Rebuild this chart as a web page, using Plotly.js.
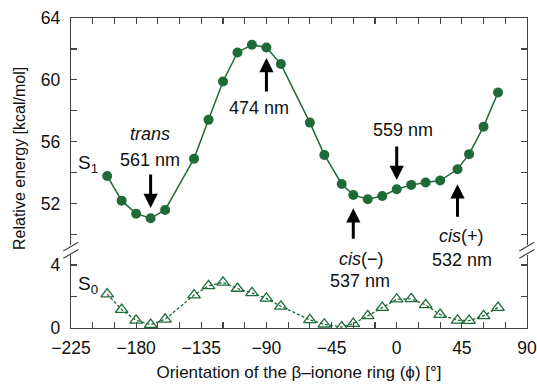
<!DOCTYPE html>
<html>
<head>
<meta charset="utf-8">
<script src="https://cdn.plot.ly/plotly-3.0.1.min.js"></script>
<style>html,body{margin:0;padding:0;background:#fff;}#chart{width:537px;height:386px;}</style>
</head>
<body>
<div id="chart"></div>
<script>
// ---- data ----
const phi = [-200,-190,-180,-170,-160,-140,-130,-120,-110,-100,-90,-80,-60,-50,-38,-30,-20,-10,0,10,20,30,42,50,60,70];
const energyS1 = [53.78,52.18,51.34,51.04,51.58,54.90,57.41,59.89,61.77,62.27,62.09,61.02,57.23,55.14,53.26,52.55,52.27,52.48,52.92,53.20,53.35,53.48,54.21,55.19,56.97,59.18];
const energyS0 = [2.15,1.17,0.49,0.22,0.55,2.09,2.68,2.90,2.51,2.23,1.88,1.38,0.52,0.24,0.06,0.28,0.77,1.30,1.83,1.85,1.47,0.85,0.49,0.47,0.77,1.30];
const xTickVals = [-225,-210,-195,-180,-165,-150,-135,-120,-105,-90,-75,-60,-45,-30,-15,0,15,30,45,60,75,90];
const xTickText = ['\u2212225','','','\u2212180','','','\u2212135','','','\u221290','','','\u221245','','','0','','','45','','','90'];
const yTopTickVals = [50,52,54,56,58,60,62,64];
const yTopTickText = ['','52','','56','','60','','64'];
const yBotTickVals = [0,2,4];
const yBotTickText = ['0','','4'];
const arrowLabels = [
  {x:-170, tip:51.71, ay:-35},
  {x:-90,  tip:61.41, ay:35},
  {x:0,    tip:53.52, ay:-35},
  {x:-30,  tip:51.69, ay:32},
  {x:42,   tip:53.24, ay:34}
];

const green = '#1f6b38';
const axisColor = '#444';
const FONT = 'Liberation Sans, Arial, Helvetica, sans-serif';

const traces = [
  {x: phi, y: energyS1, xaxis:'x2', yaxis:'y2', mode:'lines+markers', name:'S1',
   line:{color:green, width:1.5},
   marker:{symbol:'circle', size:10, color:green}},
  {x: phi, y: energyS0, xaxis:'x', yaxis:'y', mode:'lines+markers', name:'S0',
   line:{color:green, width:1.3, dash:'3px,2px'},
   marker:{symbol:'triangle-up-open', size:11, color:green, line:{color:green, width:1.3}}}
];

// paper helpers (plot area: left 71, width 456, bottom 328, height 310)
const px = v => (v-71)/456;
const py = v => (328-v)/310;

const annotations = [];
arrowLabels.forEach(a => annotations.push({
  xref:'x2', yref:'y2', x:a.x, y:a.tip, ax:0, ay:a.ay, text:'', showarrow:true,
  arrowhead:2, arrowsize:0.95, arrowwidth:3, arrowcolor:'#000'
}));
const txt = (t, x, y, size) => ({xref:'paper', yref:'paper', x:px(x), y:py(y), text:t, showarrow:false,
  xanchor:'center', yanchor:'middle', font:{family:FONT, size:size||18, color:'#111'}});
annotations.push(txt('<i>trans</i>',150,134));
annotations.push(txt('561 nm',150,160));
annotations.push(txt('474 nm',259,108));
annotations.push(txt('559 nm',402.5,130));
annotations.push(txt('<i>cis</i>(+)',461,236));
annotations.push(txt('532 nm',461.5,260));
annotations.push(txt('<i>cis</i>(\u2212)',361.7,259));
annotations.push(txt('537 nm',360,281));
annotations.push(txt('S<sub>1</sub>',88,164,19));
annotations.push(txt('S<sub>0</sub>',88,285,19));
annotations.push({xref:'paper', yref:'paper', x:px(19.5), y:py(158.5), text:'Relative energy [kcal/mol]',
  textangle:-90, showarrow:false, xanchor:'center', yanchor:'middle', font:{family:FONT, size:16, color:'#111'}});

// axis break marks
const shapes = [];
[0,1].forEach(side => {
  [[251,242.3],[258.3,249.6]].forEach(p => shapes.push({
    type:'line', xref:'paper', yref:'paper',
    x0: side + (63.3-71)/456, x1: side + (78.3-71)/456, y0: py(p[0]), y1: py(p[1]),
    line:{color:axisColor, width:1.2}
  }));
});

const tickFont = {family:FONT, size:17.5, color:'#111'};
const layout = {
  width:537, height:386,
  margin:{l:71, r:10, t:18, b:58},
  paper_bgcolor:'#fff', plot_bgcolor:'#fff',
  showlegend:false,
  font:{family:FONT, color:'#111'},
  xaxis:{domain:[0,1], range:[-225,90], anchor:'y', side:'bottom',
    tickmode:'array', tickvals:xTickVals, ticktext:xTickText,
    ticks:'inside', ticklen:6, tickcolor:axisColor, tickwidth:1.2,
    showline:true, linecolor:axisColor, linewidth:1.2, showgrid:false, zeroline:false,
    tickfont:tickFont, ticklabelstandoff:4,
    title:{text:'Orientation of the \u03b2\u2013ionone ring (\u03d5) [\u00b0]', font:{family:FONT, size:17, color:'#111'}, standoff:8}},
  xaxis2:{domain:[0,1], range:[-225,90], anchor:'y2', side:'top', matches:'x',
    tickmode:'array', tickvals:xTickVals, ticktext:xTickText, showticklabels:false,
    ticks:'inside', ticklen:6, tickcolor:axisColor, tickwidth:1.2,
    showline:true, linecolor:axisColor, linewidth:1.2, showgrid:false, zeroline:false},
  yaxis:{domain:[0,0.2355], range:[0,4.64], anchor:'x',
    tickmode:'array', tickvals:yBotTickVals, ticktext:yBotTickText,
    ticks:'inside', ticklen:6, tickcolor:axisColor, tickwidth:1.2, mirror:'ticks',
    showline:true, linecolor:axisColor, linewidth:1.2, showgrid:false, zeroline:false,
    tickfont:tickFont, ticklabelstandoff:6},
  yaxis2:{domain:[0.2677,1], range:[49.31,64], anchor:'x2',
    tickmode:'array', tickvals:yTopTickVals, ticktext:yTopTickText,
    ticks:'inside', ticklen:6, tickcolor:axisColor, tickwidth:1.2, mirror:'ticks',
    showline:true, linecolor:axisColor, linewidth:1.2, showgrid:false, zeroline:false,
    tickfont:tickFont, ticklabelstandoff:6},
  annotations: annotations,
  shapes: shapes
};

Plotly.newPlot('chart', traces, layout, {displayModeBar:false, staticPlot:true});
</script>
</body>
</html>
